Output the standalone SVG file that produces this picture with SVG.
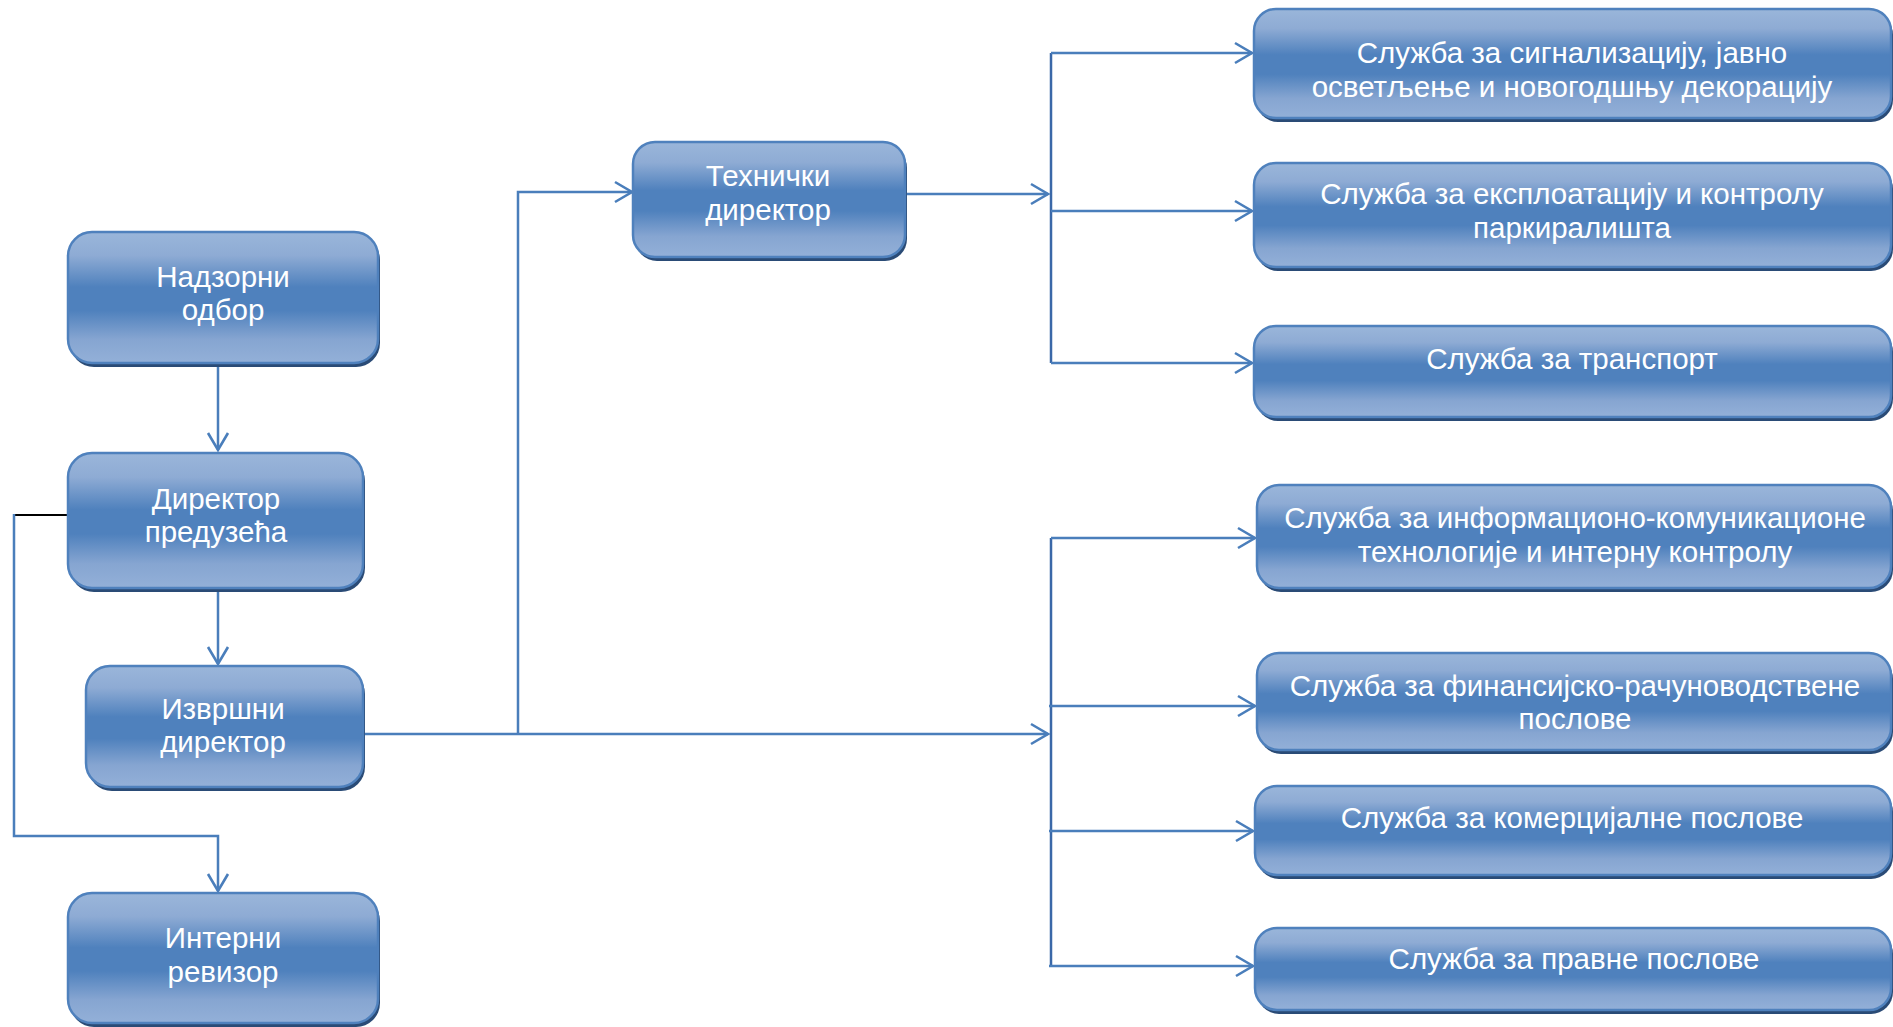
<svg xmlns="http://www.w3.org/2000/svg" width="1893" height="1027" viewBox="0 0 1893 1027">
<defs>
<linearGradient id="g" x1="0" y1="0" x2="0" y2="1">
<stop offset="0" stop-color="#9ab6da"/>
<stop offset="0.18" stop-color="#8eabd4"/>
<stop offset="0.42" stop-color="#4f81bd"/>
<stop offset="0.6" stop-color="#4f81bd"/>
<stop offset="0.82" stop-color="#86a5d1"/>
<stop offset="1" stop-color="#93b0d8"/>
</linearGradient>
<marker id="a" markerWidth="22" markerHeight="24" refX="19" refY="12" orient="auto" markerUnits="userSpaceOnUse">
<path d="M2,2 L19,12 L2,22" fill="none" stroke="#4a7ebb" stroke-width="2.6"/>
</marker>
<style>
.sh{fill:#2a4b76}
.bx{fill:url(#g);stroke:#4f81bd;stroke-width:2.5}
.t{font-family:"Liberation Sans",Arial,sans-serif;font-size:29.5px;fill:#ffffff;text-anchor:middle}
.c{fill:none;stroke:#4a7ebb;stroke-width:2.5}
.v{fill:none;stroke:#3a68a8;stroke-width:2.5}
</style>
</defs>
<rect width="1893" height="1027" fill="#ffffff"/>
<g id="connectors">
<path class="c" d="M218,363 V450" marker-end="url(#a)"/>
<path class="c" d="M218,588 V664" marker-end="url(#a)"/>
<path d="M68,515 H14" fill="none" stroke="#000000" stroke-width="2"/>
<path class="c" d="M14,514 V836 H218 V891" marker-end="url(#a)"/>
<path class="c" d="M363,734 H1048" marker-end="url(#a)"/>
<path class="c" d="M518,734 V192 H632" marker-end="url(#a)"/>
<path class="c" d="M905,194 H1048" marker-end="url(#a)"/>
<path class="v" d="M1051,53 V363"/>
<path class="c" d="M1051,53 H1252" marker-end="url(#a)"/>
<path class="c" d="M1051,211 H1252" marker-end="url(#a)"/>
<path class="c" d="M1051,363 H1252" marker-end="url(#a)"/>
<path class="v" d="M1051,538 V966"/>
<path class="c" d="M1051,538 H1255" marker-end="url(#a)"/>
<path class="c" d="M1049,706 H1255" marker-end="url(#a)"/>
<path class="c" d="M1049,831 H1253" marker-end="url(#a)"/>
<path class="c" d="M1049,966 H1253" marker-end="url(#a)"/>
</g>
<g id="n-nadzorni">
<rect class="sh" x="70" y="236" width="310" height="131" rx="24"/>
<rect class="bx" x="68" y="232" width="310" height="131" rx="24"/>
<text class="t" x="223" y="287">Надзорни</text>
<text class="t" x="223" y="320">одбор</text>
</g>
<g id="n-direktor">
<rect class="sh" x="70" y="457" width="295" height="135" rx="24"/>
<rect class="bx" x="68" y="453" width="295" height="135" rx="24"/>
<text class="t" x="216" y="509">Директор</text>
<text class="t" x="216" y="542">предузећа</text>
</g>
<g id="n-izvrsni">
<rect class="sh" x="88" y="670" width="277" height="121" rx="24"/>
<rect class="bx" x="86" y="666" width="277" height="121" rx="24"/>
<text class="t" x="223" y="719">Извршни</text>
<text class="t" x="223" y="752">директор</text>
</g>
<g id="n-interni">
<rect class="sh" x="70" y="897" width="310" height="130" rx="24"/>
<rect class="bx" x="68" y="893" width="310" height="130" rx="24"/>
<text class="t" x="223" y="948">Интерни</text>
<text class="t" x="223" y="982">ревизор</text>
</g>
<g id="n-tehnicki">
<rect class="sh" x="635" y="146" width="272" height="115" rx="22"/>
<rect class="bx" x="633" y="142" width="272" height="115" rx="22"/>
<text class="t" x="768" y="186">Технички</text>
<text class="t" x="768" y="220">директор</text>
</g>
<g id="n-signal">
<rect class="sh" x="1256" y="13" width="637" height="109" rx="22"/>
<rect class="bx" x="1254" y="9" width="637" height="109" rx="22"/>
<text class="t" x="1572" y="63">Служба за сигнализацију, јавно</text>
<text class="t" x="1572" y="97">осветљење и новогодшњу декорацију</text>
</g>
<g id="n-parking">
<rect class="sh" x="1256" y="167" width="637" height="104" rx="22"/>
<rect class="bx" x="1254" y="163" width="637" height="104" rx="22"/>
<text class="t" x="1572" y="204">Служба за експлоатацију и контролу</text>
<text class="t" x="1572" y="238">паркиралишта</text>
</g>
<g id="n-transport">
<rect class="sh" x="1256" y="330" width="637" height="91" rx="22"/>
<rect class="bx" x="1254" y="326" width="637" height="91" rx="22"/>
<text class="t" x="1572" y="369">Служба за транспорт</text>
</g>
<g id="n-ikt">
<rect class="sh" x="1259" y="489" width="634" height="103" rx="22"/>
<rect class="bx" x="1257" y="485" width="634" height="103" rx="22"/>
<text class="t" x="1575" y="528">Служба за информационо-комуникационе</text>
<text class="t" x="1575" y="562">технологије и интерну контролу</text>
</g>
<g id="n-finans">
<rect class="sh" x="1259" y="657" width="634" height="97" rx="22"/>
<rect class="bx" x="1257" y="653" width="634" height="97" rx="22"/>
<text class="t" x="1575" y="696">Служба за финансијско-рачуноводствене</text>
<text class="t" x="1575" y="729">послове</text>
</g>
<g id="n-komerc">
<rect class="sh" x="1257" y="790" width="636" height="89" rx="22"/>
<rect class="bx" x="1255" y="786" width="636" height="89" rx="22"/>
<text class="t" x="1572" y="828">Служба за комерцијалне послове</text>
</g>
<g id="n-pravne">
<rect class="sh" x="1257" y="932" width="636" height="82" rx="22"/>
<rect class="bx" x="1255" y="928" width="636" height="82" rx="22"/>
<text class="t" x="1574" y="969">Служба за правне послове</text>
</g>
</svg>
